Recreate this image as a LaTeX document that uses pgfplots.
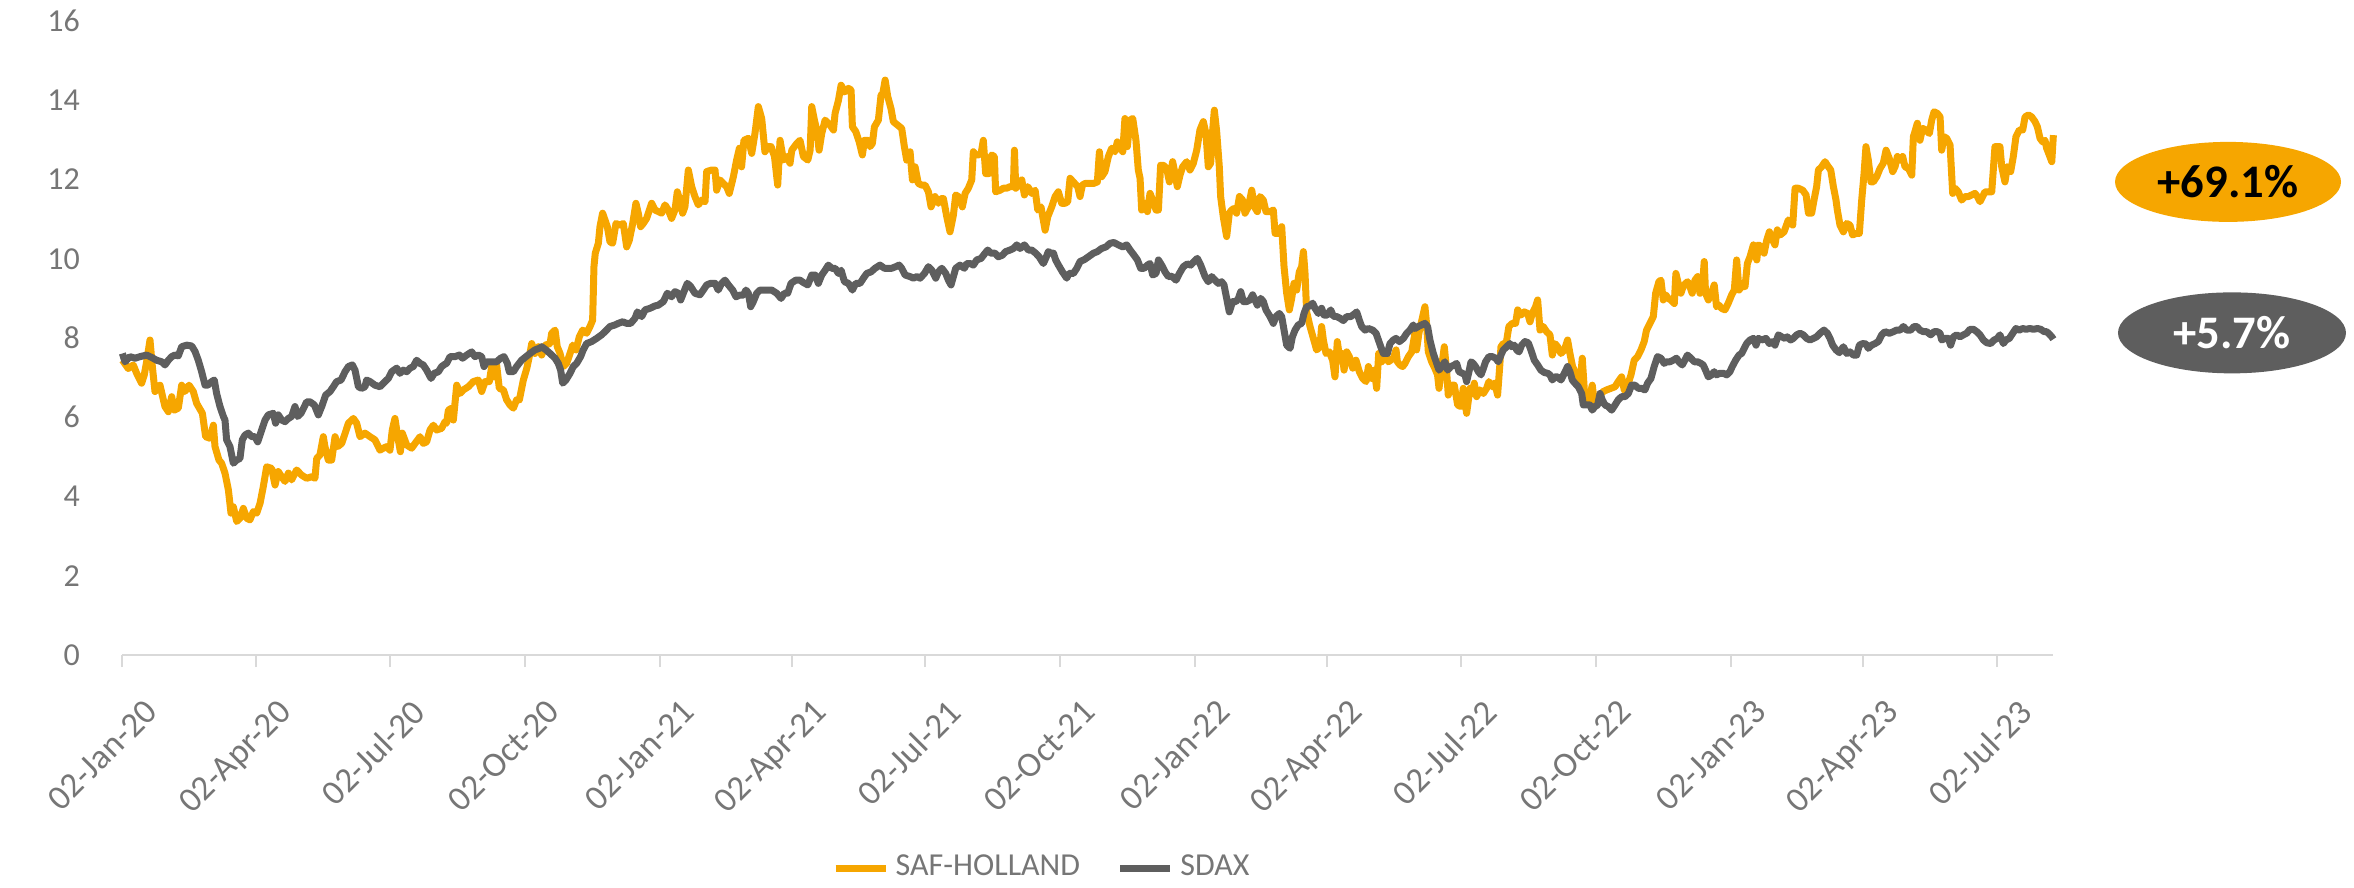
\documentclass[border=0pt]{standalone}
\usepackage{fontspec}
\setmainfont{Carlito}
\usepackage{pgfplots}
\usepackage{pgfplotstable}
\pgfplotsset{compat=1.18}
\usetikzlibrary{shapes.geometric}
\definecolor{safo}{RGB}{246,166,0}
\definecolor{sdaxg}{RGB}{94,94,94}
\definecolor{tickgray}{RGB}{118,118,118}
\definecolor{axgray}{RGB}{217,217,217}

\pgfplotstableread{
d v
0 7.44
4.0 7.23
7.4 7.32
9.7 7.11
13.1 6.86
14.9 7.07
16.5 7.40
18.8 7.95
20.4 7.28
22.2 6.65
25.6 6.81
29.0 6.27
31.3 6.14
33.6 6.52
35.4 6.18
38.1 6.23
40.4 6.81
42.6 6.65
45.4 6.81
48.3 6.65
50.6 6.35
54.5 6.10
56.7 5.51
59.7 5.47
62.0 5.80
63.1 5.26
65.8 4.92
67.6 4.84
69.9 4.59
72.2 4.17
74.0 3.58
75.6 3.74
77.9 3.37
80.1 3.45
82.4 3.70
84.7 3.45
86.9 3.41
89.2 3.62
91.5 3.58
93.8 3.83
96.0 4.25
98.3 4.75
101.7 4.71
104.0 4.29
106.2 4.63
108.5 4.50
110.8 4.38
113.1 4.59
115.3 4.42
118.7 4.67
122.1 4.54
125.6 4.46
129.0 4.50
131.2 4.46
132.4 4.96
134.6 5.05
136.9 5.51
138.0 5.26
140.3 4.92
142.6 4.92
144.9 5.51
146.7 5.26
149.4 5.34
151.7 5.59
154.0 5.85
157.4 5.97
159.6 5.85
161.9 5.51
165.3 5.60
168.7 5.51
172.1 5.43
175.5 5.17
177.8 5.22
180.1 5.26
182.3 5.17
183.9 5.68
185.7 5.97
187.6 5.51
189.4 5.13
190.7 5.60
193.7 5.30
197.1 5.22
199.4 5.34
202.8 5.51
205.0 5.34
207.3 5.38
209.6 5.68
211.9 5.80
214.1 5.68
217.5 5.72
219.8 5.89
220.9 5.85
222.1 6.18
224.4 6.23
225.5 5.93
227.8 6.81
230.0 6.60
232.3 6.69
235.7 6.77
239.1 6.90
242.5 6.94
244.8 6.65
247.1 6.90
250.0 6.90
251.6 7.28
253.2 7.02
255.0 7.32
256.8 6.73
259.6 6.69
261.8 6.44
264.1 6.31
266.4 6.23
268.6 6.44
270.5 6.44
273.2 6.94
275.5 7.23
277.7 7.61
278.9 7.86
281.1 7.61
283.4 7.78
285.7 7.57
288.0 7.82
291.4 7.86
292.5 8.12
294.8 8.20
296.3 7.78
298.2 7.61
300.4 7.28
302.7 7.36
305.0 7.61
306.8 7.82
309.1 7.70
311.3 8.03
313.6 8.20
316.3 8.12
318.6 8.29
320.4 8.45
321.3 9.80
322.2 10.14
324.3 10.39
325.4 10.81
327.2 11.15
328.8 10.98
330.4 10.81
332.2 10.43
334.0 10.39
336.3 10.89
339.0 10.85
341.3 10.89
343.6 10.30
345.4 10.47
347.7 10.89
349.9 11.40
351.5 11.15
353.1 10.81
354.9 10.89
357.2 11.02
360.6 11.40
362.9 11.23
365.2 11.19
367.4 11.15
369.7 11.36
372.0 11.23
374.2 11.02
376.5 11.23
378.1 11.69
379.5 11.52
381.7 11.15
383.3 11.31
385.6 12.24
387.9 11.82
390.1 11.57
392.4 11.36
394.7 11.48
397.0 11.44
398.1 12.20
401.5 12.24
403.8 12.24
404.9 11.73
407.2 11.99
409.4 11.90
411.7 11.82
413.5 11.65
416.3 12.07
418.5 12.49
420.4 12.79
421.9 12.32
423.5 12.99
426.5 13.04
428.8 12.66
431.0 13.16
433.3 13.84
435.6 13.54
437.8 12.70
439.7 12.83
442.0 12.83
444.3 12.58
446.5 11.86
448.1 12.99
450.4 12.49
452.7 12.58
454.9 12.41
456.1 12.74
459.5 12.91
461.7 12.99
464.0 12.58
467.0 12.49
468.6 12.74
469.7 13.84
471.5 13.50
473.1 13.25
474.7 12.74
476.5 13.16
478.8 13.50
482.2 13.37
484.5 13.25
485.6 13.67
487.9 14.00
489.7 14.38
492.0 14.21
494.7 14.30
496.5 14.26
497.4 13.33
499.7 13.21
502.0 12.95
504.2 12.62
505.6 12.99
507.8 12.99
509.4 12.83
511.0 12.91
512.4 13.33
515.1 13.50
516.9 14.13
518.1 14.17
519.7 14.51
521.5 14.09
523.7 13.79
525.3 13.46
528.3 13.37
531.0 13.29
532.8 12.83
534.4 12.49
536.7 12.70
538.3 11.99
540.1 12.32
542.3 11.90
544.6 11.86
546.9 11.86
549.2 11.69
551.0 11.31
553.7 11.57
556.0 11.40
557.8 11.52
559.4 11.52
561.7 11.06
563.9 10.68
566.2 11.10
567.8 11.61
569.6 11.57
572.3 11.31
574.2 11.65
576.4 11.78
578.7 11.99
579.8 12.70
581.4 12.62
583.2 12.62
585.1 12.66
586.6 12.99
588.2 12.15
590.5 12.15
592.3 12.62
594.1 12.58
595.0 11.69
598.0 11.73
600.3 11.78
602.5 11.78
604.8 11.82
607.1 11.82
607.8 12.74
608.7 11.78
610.5 11.86
612.8 11.99
614.6 11.61
616.9 11.82
619.6 11.65
621.9 11.73
623.7 11.23
625.9 11.31
628.7 10.72
630.5 11.06
633.2 11.31
635.5 11.57
637.7 11.69
640.0 11.40
642.3 11.40
644.1 11.44
645.7 12.03
647.9 11.94
650.9 11.82
652.5 11.57
654.1 11.86
655.9 11.90
661.6 11.90
664.3 11.94
665.7 12.70
667.2 12.07
669.5 12.20
671.8 12.58
674.1 12.79
676.3 12.70
677.9 12.95
679.7 12.83
681.6 12.70
683.1 13.54
684.7 12.83
686.6 13.50
688.4 13.54
690.6 12.99
692.2 12.24
693.4 12.03
694.5 11.23
696.8 11.40
698.4 11.19
700.2 11.65
702.0 11.48
704.3 11.23
705.9 11.23
707.4 12.36
709.3 12.36
711.5 12.28
713.4 11.94
715.6 12.45
717.2 12.15
718.8 11.82
720.6 12.11
722.4 12.32
725.2 12.45
727.4 12.24
729.7 12.41
732.0 12.74
734.2 13.25
736.5 13.46
738.3 13.16
739.9 12.32
741.5 12.41
742.9 13.25
744.0 13.75
745.6 13.21
747.4 12.32
748.3 11.57
750.1 11.06
752.4 10.56
754.2 11.15
755.8 11.23
757.4 11.27
759.2 11.15
761.1 11.57
763.3 11.48
764.9 11.15
767.2 11.31
769.5 11.73
771.3 11.31
773.3 11.19
775.1 11.57
777.4 11.48
779.2 11.19
782.0 11.19
784.2 11.23
785.4 10.64
787.6 10.64
789.9 10.81
791.5 9.80
793.3 9.13
795.1 8.71
796.7 9.00
798.3 9.38
800.1 9.21
801.9 9.67
803.5 9.80
804.7 10.18
805.8 9.63
806.9 8.66
809.2 8.29
811.5 7.99
813.7 7.70
816.0 7.78
817.1 8.29
818.3 7.95
820.1 7.61
822.4 7.65
824.6 7.44
826.2 7.02
827.8 7.91
829.6 7.44
831.2 7.61
832.4 7.19
834.2 7.65
836.0 7.53
838.3 7.24
840.5 7.44
842.8 7.15
845.1 6.98
847.4 6.90
849.0 7.28
851.2 6.98
853.0 7.19
854.6 6.73
856.0 7.61
858.0 7.40
860.3 7.61
862.6 7.40
866.0 7.49
867.8 7.70
868.7 7.40
870.5 7.32
872.3 7.28
873.9 7.36
876.2 7.53
878.5 7.65
880.7 8.12
881.8 7.70
883.4 8.12
885.7 8.50
887.5 8.79
888.6 8.37
889.8 7.65
892.1 7.40
894.3 7.23
896.1 7.07
897.1 6.73
898.9 7.28
900.7 7.78
902.3 7.15
903.4 6.56
905.7 6.81
907.5 6.81
909.8 6.31
912.0 6.27
913.6 6.73
914.8 6.39
915.9 6.10
918.2 6.73
919.8 6.60
921.1 6.86
922.7 6.52
925.0 6.69
927.3 6.60
929.5 6.73
931.1 6.90
933.4 6.77
935.2 6.86
937.0 6.56
938.6 7.36
939.3 7.78
940.9 7.86
942.5 7.78
944.7 8.29
947.0 8.37
949.3 8.37
950.7 8.71
952.9 8.58
955.2 8.66
957.5 8.62
959.1 8.41
960.6 8.62
962.9 8.79
964.3 8.96
965.9 8.20
968.1 8.29
970.4 8.16
972.7 8.08
974.3 7.57
976.1 7.86
977.9 7.78
980.2 7.61
982.5 7.70
984.7 7.95
986.3 7.61
988.1 7.28
989.7 7.15
991.5 7.07
993.1 6.81
994.7 7.49
996.1 6.69
997.7 6.44
999.3 6.39
1001.5 6.81
1003.3 6.27
1005.2 6.35
1006.8 6.56
1009.0 6.65
1011.3 6.69
1014.2 6.73
1017.0 6.77
1019.2 6.90
1021.5 7.02
1023.3 6.69
1025.6 6.81
1027.9 7.07
1030.1 7.44
1032.4 7.53
1034.7 7.70
1036.9 7.91
1038.5 8.20
1040.8 8.37
1043.1 8.54
1044.7 9.13
1046.9 9.42
1048.3 9.46
1049.9 8.96
1051.5 9.09
1053.3 9.00
1055.1 8.96
1057.4 8.87
1058.5 9.63
1060.1 9.38
1061.9 9.13
1063.5 9.30
1065.1 9.38
1066.5 9.42
1068.0 9.30
1069.6 9.13
1071.5 9.46
1073.3 9.55
1074.9 9.13
1076.4 9.21
1077.8 9.93
1078.7 9.13
1080.6 8.96
1082.8 9.13
1084.6 9.34
1086.2 8.79
1087.8 8.83
1089.6 8.75
1091.9 8.71
1094.2 8.88
1096.5 9.09
1098.3 9.21
1099.9 9.97
1101.5 9.21
1103.3 9.30
1105.6 9.30
1107.2 9.88
1109.0 10.05
1111.3 10.35
1113.6 9.97
1114.7 10.35
1117.0 10.30
1118.6 10.14
1120.4 10.47
1122.2 10.68
1123.8 10.52
1126.0 10.35
1127.6 10.73
1129.5 10.60
1132.2 10.68
1135.1 10.98
1138.1 10.85
1139.7 11.78
1141.9 11.78
1144.9 11.73
1147.2 11.61
1148.8 11.15
1151.0 11.15
1152.6 11.48
1154.4 11.82
1155.6 12.24
1157.8 12.32
1160.1 12.45
1162.4 12.32
1164.0 12.24
1165.8 11.82
1167.6 11.48
1168.5 11.23
1170.3 10.85
1172.6 10.68
1174.9 10.89
1177.1 10.85
1178.9 10.60
1181.2 10.64
1183.5 10.64
1185.1 11.48
1186.7 12.15
1188.0 12.83
1189.6 12.49
1191.4 11.94
1193.0 11.94
1195.3 12.07
1197.6 12.28
1199.8 12.41
1201.7 12.74
1203.9 12.53
1206.2 12.20
1207.8 12.32
1209.4 12.58
1211.2 12.49
1213.0 12.58
1214.6 12.32
1216.9 12.28
1219.2 12.11
1220.3 13.08
1221.4 13.21
1223.0 13.42
1224.8 12.99
1226.6 13.29
1228.9 13.25
1231.2 13.16
1232.8 13.50
1234.4 13.71
1236.6 13.67
1238.5 13.58
1239.6 12.74
1241.2 13.08
1243.0 13.04
1245.3 12.87
1247.1 11.65
1248.7 11.78
1250.9 11.69
1253.2 11.48
1255.5 11.57
1257.8 11.57
1260.0 11.61
1262.3 11.65
1263.9 11.57
1265.7 11.44
1267.5 11.57
1269.1 11.69
1271.4 11.69
1273.7 11.69
1275.9 12.83
1278.2 12.83
1279.3 12.83
1280.5 12.32
1282.7 11.94
1284.3 12.32
1286.6 12.20
1288.4 12.58
1290.2 13.08
1292.5 13.25
1294.8 13.25
1296.4 13.58
1298.7 13.63
1300.9 13.58
1303.2 13.46
1304.8 13.33
1306.6 13.04
1308.4 12.95
1310.0 12.99
1311.1 12.79
1312.9 12.62
1314.6 12.45
1315.7 13.12
}\saf

\pgfplotstableread{
d v
0 7.61
1.8 7.40
5.2 7.53
8.6 7.49
12.0 7.53
16.5 7.57
19.9 7.51
23.3 7.44
26.8 7.40
29.0 7.32
31.3 7.44
33.6 7.53
35.8 7.57
38.1 7.55
40.4 7.78
43.8 7.82
47.2 7.80
49.5 7.66
51.7 7.44
54.0 7.15
56.3 6.81
58.1 6.81
60.8 6.90
62.6 6.94
64.2 6.60
66.5 6.27
68.8 6.02
69.9 5.93
71.0 5.43
73.3 5.26
75.6 4.84
77.9 4.92
80.1 4.96
81.7 5.43
83.5 5.55
85.8 5.60
88.1 5.51
90.3 5.51
92.2 5.38
94.9 5.68
97.2 5.93
99.4 6.06
102.8 6.10
104.4 5.85
106.2 6.06
108.5 5.93
110.8 5.89
113.1 5.97
115.3 6.02
117.6 6.27
119.4 6.02
121.7 6.10
124.0 6.27
125.6 6.39
127.8 6.39
130.8 6.31
133.5 6.06
135.8 6.27
138.5 6.56
141.5 6.65
143.7 6.77
146.0 6.90
149.0 6.94
151.7 7.15
154.0 7.28
156.7 7.32
158.5 7.19
160.8 6.77
163.0 6.73
165.3 6.77
166.4 6.94
168.7 6.90
172.1 6.81
175.5 6.77
178.9 6.90
181.2 6.98
183.5 7.15
186.9 7.24
189.1 7.11
191.4 7.19
193.7 7.15
196.0 7.24
198.2 7.28
200.5 7.44
202.8 7.36
205.0 7.32
207.3 7.19
210.3 6.98
212.5 7.11
215.3 7.15
217.5 7.28
219.8 7.34
220.9 7.36
223.2 7.53
226.6 7.53
229.6 7.57
231.8 7.49
234.6 7.57
238.0 7.65
240.2 7.53
242.5 7.57
244.8 7.53
246.4 7.28
248.2 7.40
251.6 7.40
255.0 7.40
257.7 7.49
260.0 7.53
262.3 7.36
263.6 7.15
266.4 7.15
268.6 7.28
272.0 7.44
275.0 7.53
277.7 7.61
281.1 7.70
284.1 7.74
285.7 7.78
288.6 7.70
291.4 7.61
294.8 7.49
297.0 7.36
298.6 7.19
300.0 6.86
302.2 6.94
305.0 7.11
307.2 7.28
309.5 7.36
312.2 7.53
314.0 7.70
316.3 7.86
319.7 7.91
323.1 7.99
326.5 8.08
328.8 8.16
332.2 8.29
335.6 8.33
337.9 8.37
340.9 8.41
343.6 8.37
346.3 8.37
349.3 8.50
350.9 8.66
353.8 8.54
356.1 8.71
359.5 8.75
362.9 8.81
365.2 8.83
368.6 8.92
371.3 9.13
374.2 9.04
376.5 9.17
378.8 9.13
380.4 8.96
382.6 9.17
384.9 9.38
387.2 9.30
390.1 9.13
393.5 9.09
395.8 9.21
398.1 9.34
400.8 9.38
403.8 9.38
406.0 9.21
408.3 9.38
410.6 9.46
412.9 9.34
415.8 9.21
418.1 9.04
420.4 9.08
423.1 9.08
424.9 9.21
426.5 9.13
428.1 8.79
429.9 8.92
432.2 9.13
434.4 9.21
437.8 9.21
440.2 9.21
442.4 9.21
445.8 9.13
448.8 9.00
451.1 9.13
453.3 9.13
455.6 9.38
458.8 9.46
461.7 9.46
464.0 9.40
467.0 9.34
469.7 9.59
472.0 9.59
474.2 9.38
476.5 9.59
478.8 9.71
481.0 9.84
483.3 9.76
485.6 9.76
487.9 9.63
489.7 9.71
492.0 9.42
494.7 9.38
497.4 9.21
499.7 9.38
502.6 9.38
504.9 9.51
507.2 9.63
510.1 9.67
512.8 9.76
516.2 9.84
519.2 9.76
521.5 9.76
524.2 9.76
526.9 9.80
529.2 9.84
531.0 9.76
533.3 9.59
536.7 9.55
539.0 9.51
541.2 9.55
543.5 9.51
546.5 9.63
549.2 9.80
551.5 9.71
554.2 9.51
556.0 9.67
558.3 9.76
561.0 9.63
562.8 9.46
564.6 9.34
566.2 9.55
567.8 9.76
570.7 9.84
573.7 9.76
575.3 9.88
577.6 9.88
579.8 9.84
582.1 9.97
585.1 10.01
587.8 10.14
589.6 10.22
591.8 10.14
594.6 10.14
596.8 10.05
599.6 10.09
601.8 10.18
604.8 10.22
607.1 10.26
609.4 10.35
611.6 10.26
614.6 10.35
617.3 10.22
619.6 10.22
622.3 10.14
624.6 10.05
627.5 9.88
629.1 10.01
630.9 10.18
632.8 10.14
634.4 10.14
635.9 9.97
637.8 9.84
640.5 9.67
643.4 9.51
645.0 9.63
648.0 9.63
650.3 9.76
652.5 9.93
655.5 9.98
658.2 10.05
661.6 10.14
664.3 10.18
667.2 10.26
670.2 10.30
672.9 10.39
675.6 10.41
678.6 10.35
681.6 10.30
684.3 10.35
686.6 10.22
689.3 10.09
691.6 9.97
693.8 9.76
696.1 9.76
698.4 9.84
700.2 9.88
702.0 9.59
704.3 9.63
705.9 9.97
708.1 9.84
710.4 9.67
712.7 9.55
715.0 9.56
717.9 9.46
720.2 9.63
722.9 9.80
725.6 9.87
727.9 9.84
730.2 9.93
732.4 10.01
734.7 9.84
737.7 9.55
739.9 9.42
742.2 9.55
744.5 9.46
746.7 9.38
749.0 9.42
750.6 9.34
752.4 9.00
754.2 8.66
756.5 8.92
758.8 8.92
760.4 9.00
762.0 9.17
763.8 8.92
766.0 8.92
768.3 8.96
770.1 9.09
771.7 8.96
773.3 8.83
775.6 9.00
777.4 8.92
779.2 8.71
782.0 8.54
784.2 8.37
786.0 8.54
788.3 8.62
789.9 8.54
791.5 8.20
793.3 7.82
795.6 7.74
797.2 8.03
799.0 8.20
801.2 8.33
803.5 8.37
805.1 8.62
806.9 8.79
809.2 8.81
811.0 8.88
812.6 8.75
814.9 8.62
817.1 8.75
818.7 8.58
821.0 8.58
823.3 8.71
825.1 8.55
827.4 8.54
829.6 8.50
831.9 8.44
834.2 8.54
836.9 8.54
839.9 8.62
841.0 8.66
842.8 8.45
844.4 8.29
846.7 8.20
849.0 8.24
851.9 8.20
854.2 8.12
855.8 7.95
857.4 7.78
859.2 7.61
861.9 7.61
863.7 7.86
866.0 7.95
867.8 7.99
870.1 7.91
872.8 7.99
875.1 8.12
877.3 8.20
879.6 8.33
880.7 8.24
883.0 8.29
885.2 8.33
887.5 8.37
889.3 8.29
890.9 7.95
893.2 7.61
895.5 7.36
897.1 7.19
898.9 7.28
901.1 7.40
903.0 7.19
905.2 7.28
907.5 7.32
909.1 7.36
910.7 7.15
913.0 7.11
914.8 7.07
915.9 6.90
917.5 7.15
918.9 7.40
920.4 7.36
922.0 7.28
923.9 7.15
925.7 7.07
927.3 7.23
928.8 7.40
931.1 7.53
933.4 7.53
935.7 7.49
937.5 7.40
939.3 7.57
940.9 7.70
943.2 7.78
945.4 7.86
946.6 7.78
948.4 7.82
950.0 7.70
951.6 7.65
953.4 7.82
955.7 7.91
957.9 7.88
959.7 7.70
962.0 7.44
964.3 7.32
966.5 7.19
968.8 7.13
971.1 7.11
972.7 7.07
974.3 6.94
976.1 7.02
977.9 7.02
980.2 6.94
982.5 7.11
984.7 7.28
986.3 7.15
987.9 6.94
989.7 6.86
992.0 6.77
994.3 6.60
995.4 6.31
997.7 6.31
999.9 6.31
1001.5 6.18
1003.3 6.27
1005.2 6.31
1006.8 6.60
1008.3 6.44
1010.2 6.31
1012.4 6.27
1014.7 6.18
1017.0 6.31
1019.2 6.44
1021.5 6.52
1023.8 6.52
1026.1 6.60
1028.3 6.81
1030.6 6.81
1032.9 6.73
1035.1 6.73
1037.4 6.69
1039.2 6.86
1041.5 6.98
1043.7 7.28
1046.0 7.53
1048.3 7.49
1050.5 7.36
1052.1 7.40
1054.4 7.40
1056.7 7.44
1058.9 7.49
1060.5 7.40
1062.8 7.32
1064.6 7.44
1066.4 7.57
1068.7 7.49
1071.0 7.40
1073.3 7.40
1075.5 7.36
1077.1 7.32
1078.7 7.19
1080.6 7.02
1082.8 7.07
1084.6 7.15
1086.2 7.07
1088.5 7.11
1090.8 7.11
1093.1 7.07
1095.3 7.15
1096.9 7.28
1099.2 7.44
1101.5 7.57
1103.3 7.61
1104.5 7.70
1106.7 7.86
1109.0 7.95
1111.3 7.99
1113.1 7.82
1114.7 7.99
1117.0 7.95
1119.9 7.99
1122.2 7.86
1124.5 7.91
1126.0 7.82
1128.3 8.08
1130.6 8.03
1132.9 7.99
1134.4 8.03
1136.7 7.95
1138.5 7.99
1140.8 8.08
1143.1 8.12
1145.3 8.08
1147.6 7.99
1149.9 7.95
1152.2 7.99
1154.4 8.03
1156.7 8.12
1159.4 8.20
1161.7 8.12
1163.5 7.99
1165.3 7.82
1167.6 7.70
1169.9 7.63
1172.6 7.78
1174.9 7.61
1177.1 7.65
1179.4 7.57
1181.7 7.57
1183.5 7.82
1185.8 7.86
1188.0 7.85
1189.6 7.74
1191.9 7.82
1194.2 7.86
1196.4 7.91
1198.7 8.08
1201.0 8.16
1203.9 8.12
1206.7 8.16
1208.9 8.20
1211.2 8.20
1213.5 8.29
1215.8 8.20
1218.5 8.20
1220.8 8.29
1222.6 8.29
1224.8 8.20
1227.1 8.16
1229.4 8.16
1232.1 8.08
1234.4 8.16
1236.6 8.16
1238.5 8.12
1239.6 7.95
1241.9 7.99
1244.1 7.99
1245.7 7.82
1247.6 8.03
1249.8 8.08
1252.1 8.03
1254.4 8.08
1256.6 8.12
1258.9 8.22
1261.2 8.22
1263.5 8.16
1265.7 8.08
1268.0 7.95
1270.3 7.88
1273.0 7.86
1275.3 7.95
1277.5 7.99
1279.3 8.08
1281.6 7.86
1283.4 7.95
1285.7 7.99
1288.0 8.12
1290.2 8.24
1292.5 8.20
1294.8 8.24
1297.1 8.22
1299.8 8.24
1302.1 8.22
1304.8 8.24
1307.1 8.22
1309.4 8.16
1311.1 8.16
1312.9 8.10
1314.6 8.03
1315.7 7.97
}\sdax

\begin{document}
\begin{tikzpicture}
\path (-36.72pt,-69pt) rectangle (669.48pt,196.5pt);
\begin{axis}[
  at={(0pt,0pt)}, anchor=south west,
  scale only axis,
  width=579.2pt, height=190.2pt,
  xmin=0, xmax=1315.5, ymin=0, ymax=16,
  clip=false,
  axis x line*=bottom, axis y line*=left,
  y axis line style={draw=none},
  x axis line style={draw=axgray, line width=0.7pt},
  ytick={0,2,4,6,8,10,12,14,16},
  ytick style={draw=none},
  xtick={0,91,182,274,366,456,547,639,731,821,912,1004,1096,1186,1277},
  xticklabels={02-Jan-20,02-Apr-20,02-Jul-20,02-Oct-20,02-Jan-21,02-Apr-21,02-Jul-21,02-Oct-21,02-Jan-22,02-Apr-22,02-Jul-22,02-Oct-22,02-Jan-23,02-Apr-23,02-Jul-23},
  xtick style={draw=axgray, line width=0.6pt},
  tick align=outside,
  major tick length=3.6pt,
  /pgf/number format/assume math mode=true,
  yticklabel style={font=\fontsize{9.6}{11}\selectfont, text=tickgray, inner sep=0pt, xshift=-9pt},
  xticklabel style={font=\fontsize{10.5}{12}\selectfont, text=tickgray, rotate=45, anchor=north east, inner sep=0pt, xshift=-2pt, yshift=-10.8pt},
  legend style={at={(0.4774,-0.336)}, anchor=center, draw=none, fill=none,
    legend columns=2, font=\fontsize{9.6}{11}\selectfont, text=tickgray,
    /tikz/every even column/.append style={column sep=9pt},
    inner sep=0pt},
  legend cell align=left,
  legend image code/.code={\draw[#1] (0pt,0pt) -- (15pt,0pt);},
]
\addplot[safo, line width=2.1pt, line join=round] table[x=d, y=v]{\saf};
\addlegendentry{SAF-HOLLAND}
\addplot[sdaxg, line width=2.1pt, line join=round] table[x=d, y=v]{\sdax};
\addlegendentry{SDAX}
\node[ellipse, fill=safo, minimum width=67.8pt, minimum height=24pt, inner sep=0pt, font=\fontsize{14}{16}\selectfont\bfseries, text=black] at (axis cs:1434.7,11.94) {+69.1\%};
\node[ellipse, fill=sdaxg, minimum width=68.4pt, minimum height=24.3pt, inner sep=0pt, font=\fontsize{14}{16}\selectfont\bfseries, text=white] at (axis cs:1437.4,8.13) {+5.7\%};
\end{axis}
\end{tikzpicture}
\end{document}
